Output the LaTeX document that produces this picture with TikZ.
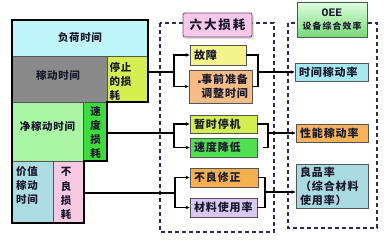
\documentclass[tikz,border=0pt]{standalone}
\usepackage{fontspec}
\newfontfamily\cjk[LetterSpace=6]{Noto Sans CJK SC}
\newfontfamily\cjkb[LetterSpace=8]{Noto Sans CJK SC}
\newfontfamily\cjkt[LetterSpace=15]{Noto Sans CJK SC}
\newfontfamily\cjks[LetterSpace=14]{Noto Sans CJK SC}
\newfontfamily\dejavu{DejaVu Sans}
\newfontfamily\lmono{Liberation Mono}
\usetikzlibrary{arrows.meta,shadows}
\definecolor{cFH}{HTML}{C0F6FA}
\definecolor{cJD}{HTML}{8A8A8A}
\definecolor{cTZ}{HTML}{D5EF50}
\definecolor{cJJ}{HTML}{A9F7A4}
\definecolor{cSD}{HTML}{3EDB3E}
\definecolor{cJZ}{HTML}{ADDCE3}
\definecolor{cBL}{HTML}{F9C9E4}
\definecolor{cGZ}{HTML}{F4F48C}
\definecolor{cSQ}{HTML}{F8BC86}
\definecolor{cZT}{HTML}{D4EE50}
\definecolor{cJS}{HTML}{4EE04E}
\definecolor{cXZ}{HTML}{F7B04E}
\definecolor{cCL}{HTML}{D9C9F2}
\definecolor{cLD}{HTML}{F8C8E8}
\definecolor{cTJ}{HTML}{A8EAF4}
\definecolor{cXN}{HTML}{F8B258}
\definecolor{cLP}{HTML}{A9D9E1}
\definecolor{cTxt}{HTML}{1A1A2E}
\definecolor{cDash}{HTML}{2B2B55}
\definecolor{cBrd}{HTML}{555555}
\begin{document}
\begin{tikzpicture}[x=1pt,y=-1pt,
  cell/.style={draw=cBrd,line width=0.8pt,anchor=north west,inner sep=0pt},
  txt/.style={text=cTxt,inner sep=0pt,font=\cjk\bfseries\fontsize{10.5}{14}\selectfont},
  box/.style={draw=cBrd,line width=0.8pt,inner xsep=4pt,inner ysep=0pt,align=left,
    text=cTxt,font=\cjkb\bfseries\fontsize{11}{14}\selectfont},
  conn/.style={line width=1.1pt,black},
  arr/.style={conn,-{Stealth[length=4pt,width=3.6pt]}},
  dashbox/.style={draw=cDash,line width=1.1pt,dash pattern=on 4pt off 3pt}]
\useasboundingbox (0,0) rectangle (391,240);
% left block cells
\node[cell,fill=cFH,minimum width=136pt,minimum height=36pt] (fh) at (12,20) {};
\node[cell,fill=cJD,minimum width=95pt,minimum height=46pt] (jd) at (12,56) {};
\node[cell,fill=cTZ,minimum width=41pt,minimum height=46pt] (tz) at (107,56) {};
\node[cell,fill=cJJ,minimum width=71pt,minimum height=59pt] (jj) at (12,102) {};
\node[cell,fill=cSD,minimum width=24pt,minimum height=59pt] (sd) at (83,102) {};
\node[cell,fill=cJZ,minimum width=41pt,minimum height=62pt] (jz) at (12,161) {};
\node[cell,fill=cBL,minimum width=31pt,minimum height=62pt] (bl) at (53,161) {};
\draw[line width=1.6pt,black] (12,20) -- (148,20) -- (148,102) -- (107,102) -- (107,161)
  -- (84,161) -- (84,223) -- (12,223) -- cycle;
% left block texts
\node[txt] (tfh) at (80,38) {负荷时间};
\node[txt] (tjd) at (58,76) {稼动时间};
\node[txt,align=left,anchor=west] (ttz) at (109.5,81) {停止\\的损\\耗};
\node[txt] (tjj) at (47.5,127) {净稼动时间};
\node[txt,align=center,font=\cjk\bfseries\fontsize{10.5}{13.7}\selectfont] (tsd) at (95.5,132.5) {速\\度\\损\\耗};
\node[txt,align=left,anchor=west] (tjz) at (16,185) {价值\\稼动\\时间};
\node[txt,align=center,font=\cjk\bfseries\fontsize{10.5}{14.3}\selectfont] (tbl) at (66,193.5) {不\\良\\损\\耗};
% dashed frames
\draw[dashbox] (160,23) rectangle (274,232);
\draw[dashbox] (288,23) rectangle (377,228);
% headers
\node[draw=cBrd!80!magenta,line width=0.8pt,fill=cLD,rounded corners=2pt,
  minimum width=69pt,minimum height=24pt,inner sep=0pt,text=cTxt,
  font=\cjkt\bfseries\fontsize{12.5}{14}\selectfont,
  drop shadow={shadow xshift=2pt,shadow yshift=-2pt,fill=gray!55}] (ld) at (217.5,25) {六大损耗};
\node[draw=cBrd,line width=0.8pt,top color=green!12!white,bottom color=green!45!white!85!black,
  minimum width=70pt,minimum height=35pt,inner sep=0pt,align=center,text=cTxt] (oee) at (332,19.5)
  {{\lmono\bfseries\fontsize{11.5}{13}\selectfont OEE}\\[1pt]{\cjks\bfseries\fontsize{8.8}{10}\selectfont 设备综合效率}};
% loss boxes
\node[box,fill=cGZ,minimum width=56pt,minimum height=20pt,text width=48pt] (gz) at (218,55) {故障};
\node[box,fill=cSQ,minimum width=63pt,minimum height=33pt,text width=55pt,align=right] (sq) at (220.5,86.5)
  {{\dejavu\fontsize{5}{6}\selectfont ▪}事前准备\\调整时间};
\node[box,fill=cZT,minimum width=67pt,minimum height=18pt,text width=59pt] (zt) at (223.5,124) {暂时停机};
\node[box,fill=cJS,minimum width=67pt,minimum height=19pt,text width=59pt] (js) at (223.5,147.5) {速度降低};
\node[box,fill=cXZ,minimum width=68pt,minimum height=19pt,text width=60pt] (xz) at (224,177.5) {不良修正};
\node[box,fill=cCL,minimum width=67pt,minimum height=19pt,text width=59pt] (cl) at (223.5,207.5) {材料使用率};
% OEE boxes
\node[box,fill=cTJ,minimum width=73pt,minimum height=18pt,text width=65pt] (tj) at (331.5,72) {时间稼动率};
\node[box,fill=cXN,minimum width=72pt,minimum height=18pt,text width=64pt] (xn) at (332,133) {性能稼动率};
\node[box,fill=cLP,minimum width=72pt,minimum height=44pt,text width=64pt] (lp) at (332,186) {良品率\\（综合材料\\使用率）};
% connectors group 1
\coordinate (s1) at (174,72);
\coordinate (b1) at (258,72);
\draw[conn] (tz.east |- s1) -- (s1);
\draw[arr] (s1) |- (gz.west);
\draw[arr] (s1) |- (sq.west);
\draw[conn] (gz.east) -- (gz.east -| b1) -- (sq.east -| b1) -- (sq.east);
\draw[arr] (b1) -- (tj.west);
% group 2
\coordinate (s2) at (174,133);
\coordinate (b2) at (268,133);
\coordinate (r2) at (263,147.5);
\draw[conn] (sd.east |- s2) -- (s2);
\draw[arr] (s2) |- (zt.west);
\draw[arr] (s2) |- (js.west);
\draw[conn] (zt.east) -- (zt.east -| b2) -- (r2 -| b2) -- (r2);
\draw[arr] (b2) -- (xn.west);
% group 3
\coordinate (s3) at (175,193);
\coordinate (b3) at (265,192);
\draw[conn] (bl.east |- s3) -- (s3);
\draw[arr] (s3) |- (xz.west);
\draw[arr] (s3) |- (cl.west);
\draw[conn] (xz.east) -- (xz.east -| b3) -- (cl.east -| b3) -- (cl.east);
\draw[arr] (b3) -- (b3 -| lp.west);
\end{tikzpicture}
\end{document}
